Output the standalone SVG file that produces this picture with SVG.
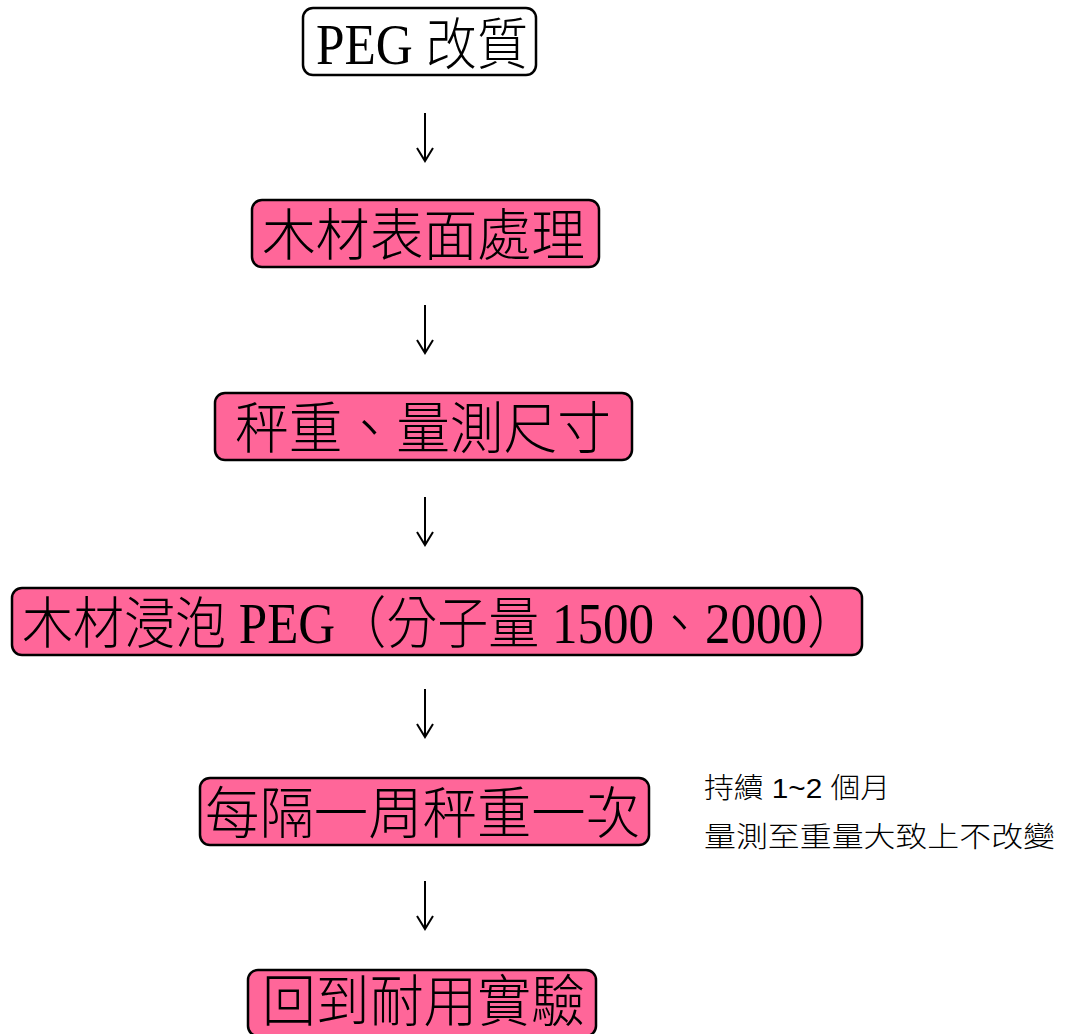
<svg xmlns="http://www.w3.org/2000/svg" width="1067" height="1034" viewBox="0 0 1067 1034">
<style>
.box{fill:#FF6699;stroke:#000;stroke-width:2.5}
.white{fill:#fff}
.t{font-family:"Liberation Serif","Noto Sans CJK TC",serif;font-size:56px;font-weight:300;fill:#000}
.note{font-family:"Liberation Sans","Noto Sans CJK TC",sans-serif;font-size:28px;font-weight:300;fill:#000}
.arr{stroke:#000;stroke-width:2;fill:none}
</style>
<defs>
<marker id="ah" markerWidth="20" markerHeight="20" refX="14" refY="10" orient="auto" markerUnits="userSpaceOnUse" viewBox="0 0 20 20">
<path d="M1,2 L14,10 L1,18" fill="none" stroke="#000" stroke-width="2"/>
</marker>
</defs>
<g id="n1"><rect class="box white" x="303" y="8" width="233" height="67" rx="10"/><text class="t" x="316" y="64" textLength="212" lengthAdjust="spacingAndGlyphs">PEG 改質</text></g>
<g id="n2"><rect class="box" x="252" y="200" width="347" height="67" rx="10"/><text class="t" x="262" y="255" textLength="323" lengthAdjust="spacingAndGlyphs">木材表面處理</text></g>
<g id="n3"><rect class="box" x="215" y="393" width="417" height="67" rx="10"/><text class="t" x="235" y="448" textLength="376" lengthAdjust="spacingAndGlyphs">秤重、量測尺寸</text></g>
<g id="n4"><rect class="box" x="12" y="588" width="850" height="67" rx="10"/><text class="t" x="22" y="643" textLength="836" lengthAdjust="spacingAndGlyphs">木材浸泡 PEG（分子量 1500、2000）</text></g>
<g id="n5"><rect class="box" x="200" y="778" width="449" height="67" rx="10"/><text class="t" x="205" y="833" textLength="435" lengthAdjust="spacingAndGlyphs">每隔一周秤重一次</text></g>
<g id="n6"><rect class="box" x="248" y="970" width="348" height="66" rx="10"/><text class="t" x="262" y="1021" textLength="323" lengthAdjust="spacingAndGlyphs">回到耐用實驗</text></g>
<g id="note"><text class="note" x="704" y="798" textLength="186" lengthAdjust="spacingAndGlyphs">持續 1~2 個月</text><text class="note" x="704" y="847" textLength="351" lengthAdjust="spacingAndGlyphs">量測至重量大致上不改變</text></g>
<g id="connectors">
<line class="arr" x1="425" y1="113" x2="425" y2="161" marker-end="url(#ah)"/>
<line class="arr" x1="425" y1="305" x2="425" y2="353" marker-end="url(#ah)"/>
<line class="arr" x1="425" y1="497" x2="425" y2="545" marker-end="url(#ah)"/>
<line class="arr" x1="425" y1="689" x2="425" y2="737" marker-end="url(#ah)"/>
<line class="arr" x1="425" y1="881" x2="425" y2="929" marker-end="url(#ah)"/>
</g>
</svg>
